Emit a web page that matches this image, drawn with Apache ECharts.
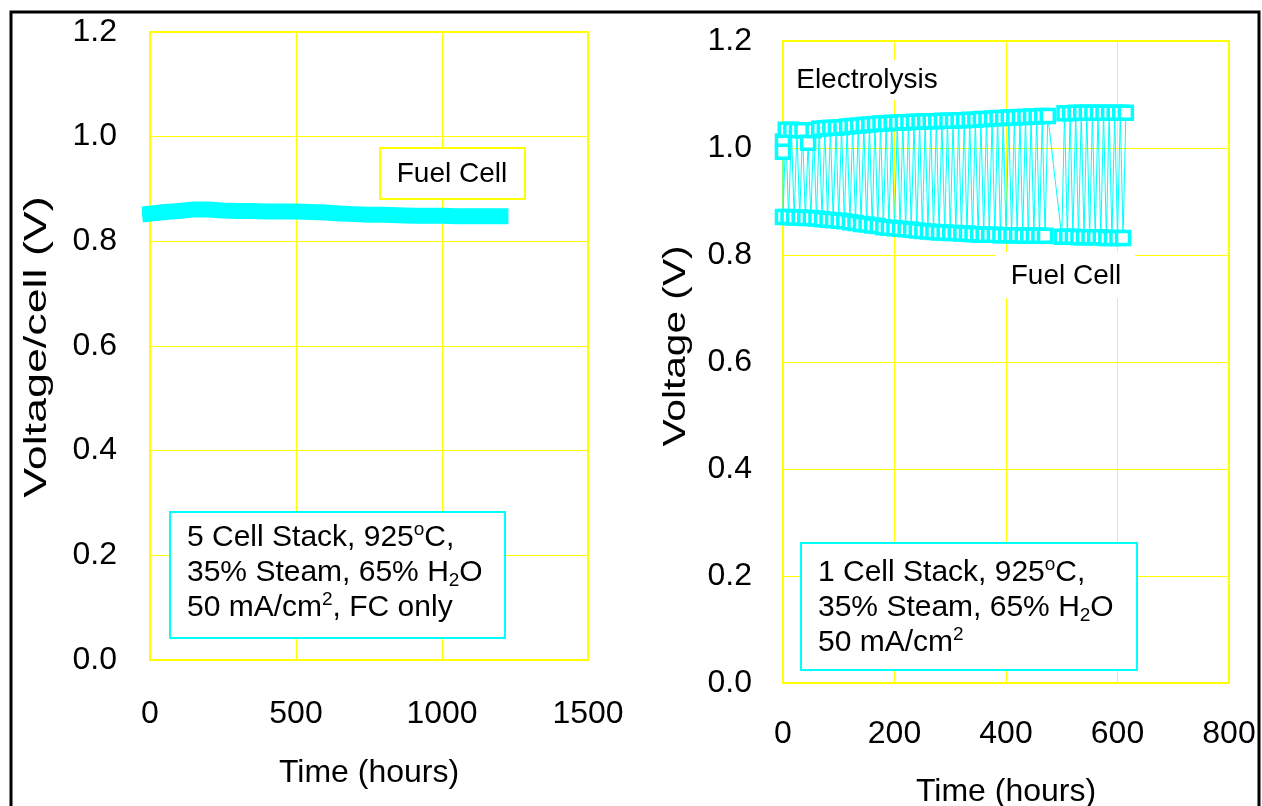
<!DOCTYPE html>
<html>
<head>
<meta charset="utf-8">
<script src="https://cdn.jsdelivr.net/npm/echarts@6/dist/echarts.min.js"></script>
<style>
  html, body { margin: 0; padding: 0; background: #fff; }
  #chart { width: 1262px; height: 806px; }
</style>
</head>
<body>
<div id="chart"></div>
<script>
// left panel: 5 cell stack, fuel cell mode only
const stackTimes = [0, 50, 100, 150, 200, 250, 300, 350, 400, 450, 500, 550, 600,
  650, 700, 750, 800, 850, 900, 950, 1000, 1050, 1100, 1150, 1200];
const stackVolts = [0.853, 0.856, 0.858, 0.861, 0.861, 0.859, 0.858, 0.858, 0.857, 0.857, 0.857, 0.856, 0.855,
  0.853, 0.852, 0.851, 0.851, 0.850, 0.849, 0.849, 0.849, 0.848, 0.848, 0.848, 0.848];

// right panel: 1 cell stack, cycling between fuel cell and electrolysis
const startTimes = [0, 0];
const startVolts = [1.012, 0.993];

const fcTimes = [0, 10, 20, 30, 40, 50, 60, 70, 80, 90, 100, 110, 120, 130, 140, 150, 160, 170, 180, 190,
  200, 210, 220, 230, 240, 250, 260, 270, 280, 290, 300, 310, 320, 330, 340, 350, 360, 370, 380, 390,
  400, 410, 420, 430, 440, 450, 460, 470,
  500, 510, 520, 530, 540, 550, 560, 570, 580, 590, 600, 610];
const fcVolts = [0.871, 0.871, 0.870, 0.870, 0.869, 0.869, 0.868, 0.867, 0.866, 0.865, 0.864, 0.863, 0.861, 0.860, 0.858, 0.857, 0.855, 0.854, 0.852, 0.851,
  0.850, 0.849, 0.848, 0.847, 0.846, 0.845, 0.844, 0.843, 0.842, 0.842, 0.841, 0.841, 0.840, 0.840, 0.839, 0.839, 0.838, 0.838, 0.838, 0.837,
  0.837, 0.837, 0.837, 0.836, 0.836, 0.836, 0.836, 0.836,
  0.834, 0.834, 0.834, 0.833, 0.833, 0.833, 0.833, 0.833, 0.832, 0.832, 0.832, 0.832];

const ecTimes = [5, 15, 25, 35, 45, 55, 65, 75, 85, 95, 105, 115, 125, 135, 145, 155, 165, 175, 185, 195,
  205, 215, 225, 235, 245, 255, 265, 275, 285, 295, 305, 315, 325, 335, 345, 355, 365, 375, 385, 395,
  405, 415, 425, 435, 445, 455, 465, 475,
  505, 515, 525, 535, 545, 555, 565, 575, 585, 595, 605, 615];
const ecVolts = [1.034, 1.034, 1.033, 1.033, 1.010, 1.033, 1.036, 1.037, 1.038, 1.038, 1.039, 1.040, 1.041, 1.042, 1.043, 1.044, 1.045, 1.046, 1.046, 1.047,
  1.047, 1.048, 1.048, 1.049, 1.049, 1.050, 1.050, 1.050, 1.051, 1.051, 1.051, 1.052, 1.052, 1.053, 1.053, 1.054, 1.054, 1.055, 1.056, 1.056,
  1.057, 1.057, 1.058, 1.058, 1.059, 1.059, 1.060, 1.060,
  1.065, 1.065, 1.066, 1.066, 1.066, 1.066, 1.066, 1.066, 1.066, 1.066, 1.066, 1.066];

const FONT = '"Liberation Sans", Arial, sans-serif';
const YELLOW = '#ffff00';
const CYAN = '#00ffff';

const stackData = stackTimes.map((t, i) => [t, stackVolts[i]]);
const cycleData = startTimes.map((t, i) => [t, startVolts[i]]);
fcTimes.forEach((t, i) => {
  cycleData.push([t, fcVolts[i]]);
  cycleData.push([ecTimes[i], ecVolts[i]]);
});

function xAxisOf(idx, max, step, gap, margin) {
  return {
    gridIndex: idx, type: 'value', min: 0, max: max, interval: step,
    axisLine: { show: false }, axisTick: { show: false },
    splitLine: { show: true, lineStyle: { color: YELLOW, width: 1 } },
    axisLabel: { fontSize: 32, color: '#000', fontFamily: FONT, margin: margin,
      formatter: v => String(v) },
    name: 'Time (hours)', nameLocation: 'middle', nameGap: gap,
    nameTextStyle: { fontSize: 32, color: '#000', fontFamily: FONT }
  };
}
function yAxisOf(idx, margin) {
  return {
    gridIndex: idx, type: 'value', min: 0, max: 1.2, interval: 0.2,
    axisLine: { show: false }, axisTick: { show: false },
    splitLine: { show: true, lineStyle: { color: YELLOW, width: 1 } },
    axisLabel: { fontSize: 32, color: '#000', fontFamily: FONT, margin: margin,
      padding: [6, 0, 0, 0], formatter: v => v.toFixed(1) }
  };
}

// rotated y titles are drawn stretched along their length, as in the original
function yTitle(text, x, y, stretch) {
  return {
    type: 'text', silent: true, z: 11, x: x, y: y, rotation: Math.PI / 2, scaleX: stretch,
    style: { text: text, font: '32px ' + FONT, fill: '#000', align: 'center', verticalAlign: 'middle' }
  };
}

const rich = {
  n: { fontSize: 30, lineHeight: 35, fontFamily: FONT, color: '#000' },
  sup: { fontSize: 19, lineHeight: 19, verticalAlign: 'top', fontFamily: FONT, color: '#000' },
  sub: { fontSize: 19, lineHeight: 12, verticalAlign: 'bottom', fontFamily: FONT, color: '#000' }
};

const chart = echarts.init(document.getElementById('chart'), null, { renderer: 'canvas' });
chart.setOption({
  animation: false,
  backgroundColor: '#fff',
  grid: [
    { left: 150, top: 32, width: 438, height: 628, show: true, borderColor: YELLOW, borderWidth: 2,
      outerBoundsMode: 'none', containLabel: false },
    { left: 783, top: 41, width: 446, height: 642, show: true, borderColor: YELLOW, borderWidth: 2,
      outerBoundsMode: 'none', containLabel: false }
  ],
  xAxis: [xAxisOf(0, 1500, 500, 97, 38), xAxisOf(1, 800, 200, 93, 35)],
  yAxis: [yAxisOf(0, 33), yAxisOf(1, 31)],
  series: [
    {
      type: 'line', xAxisIndex: 0, yAxisIndex: 0, data: stackData,
      showSymbol: false, symbol: 'none',
      lineStyle: { color: CYAN, width: 16, cap: 'square', join: 'round' }
    },
    {
      type: 'line', xAxisIndex: 1, yAxisIndex: 1, data: cycleData,
      symbol: 'rect', symbolSize: 13, showAllSymbol: true,
      itemStyle: { color: '#fff', borderColor: CYAN, borderWidth: 3.5 },
      lineStyle: { color: CYAN, width: 1 }
    }
  ],
  graphic: [
    { type: 'rect', silent: true, z: 20, shape: { x: 11, y: 12, width: 1248, height: 820 },
      style: { fill: 'none', stroke: '#000', lineWidth: 3 } },
    yTitle('Voltage/cell (V)', 37, 347, 1.4),
    yTitle('Voltage (V)', 676, 346, 1.27),
    // left panel labels
    { type: 'rect', silent: true, z: 10, shape: { x: 380, y: 148, width: 145, height: 51 },
      style: { fill: '#fff', stroke: YELLOW, lineWidth: 2 } },
    { type: 'text', silent: true, z: 11, x: 452, y: 174,
      style: { text: 'Fuel Cell', font: '28px ' + FONT, fill: '#000', align: 'center', verticalAlign: 'middle' } },
    { type: 'rect', silent: true, z: 10, shape: { x: 170, y: 512, width: 335, height: 126 },
      style: { fill: '#fff', stroke: CYAN, lineWidth: 2 } },
    { type: 'text', silent: true, z: 11, x: 187, y: 520,
      style: { text: '{n|5 Cell Stack, 925}{sup|o}{n|C,}\n{n|35% Steam, 65% H}{sub|2}{n|O}\n{n|50 mA/cm}{sup|2}{n|, FC only}',
        rich: rich, align: 'left', verticalAlign: 'top' } },
    // right panel labels
    { type: 'rect', silent: true, z: 10, shape: { x: 790, y: 60, width: 155, height: 40 },
      style: { fill: '#fff' } },
    { type: 'text', silent: true, z: 11, x: 867, y: 80,
      style: { text: 'Electrolysis', font: '28px ' + FONT, fill: '#000', align: 'center', verticalAlign: 'middle' } },
    { type: 'rect', silent: true, z: 10, shape: { x: 995, y: 252, width: 140, height: 46 },
      style: { fill: '#fff' } },
    { type: 'text', silent: true, z: 11, x: 1066, y: 276,
      style: { text: 'Fuel Cell', font: '28px ' + FONT, fill: '#000', align: 'center', verticalAlign: 'middle' } },
    { type: 'rect', silent: true, z: 10, shape: { x: 801, y: 543, width: 336, height: 127 },
      style: { fill: '#fff', stroke: CYAN, lineWidth: 2 } },
    { type: 'text', silent: true, z: 11, x: 818, y: 555,
      style: { text: '{n|1 Cell Stack, 925}{sup|o}{n|C,}\n{n|35% Steam, 65% H}{sub|2}{n|O}\n{n|50 mA/cm}{sup|2}',
        rich: rich, align: 'left', verticalAlign: 'top' } }
  ]
});
</script>
</body>
</html>
